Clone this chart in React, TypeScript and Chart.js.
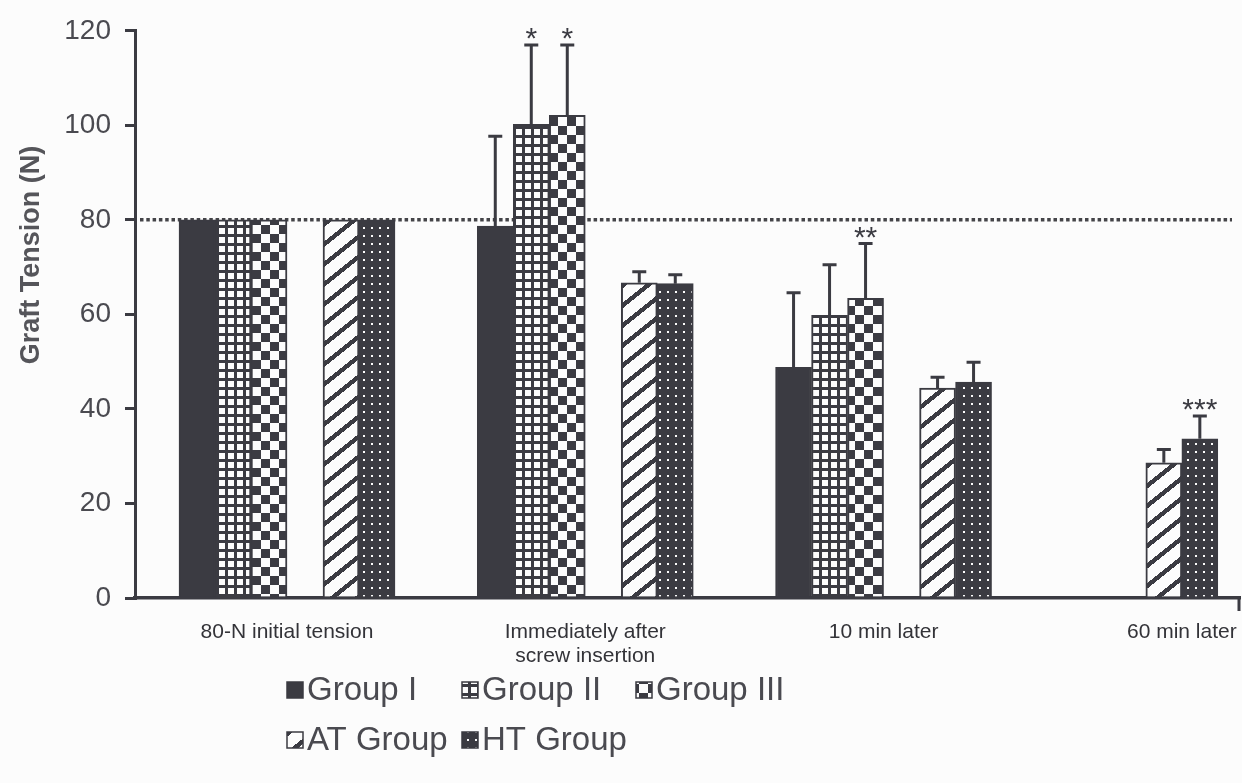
import React, { useEffect, useRef } from 'react';
import { Chart, registerables } from 'chart.js';

Chart.register(...registerables);

// ---------------- data ----------------
const categoryLabels: (string | string[])[] = [
  '80-N initial tension',
  ['Immediately after', 'screw insertion'],
  '10 min later',
  '60 min later',
];
const categoryIndex = [0, 1, 2, 3];

const seriesNames = ['Group I', 'Group II', 'Group III', 'AT Group', 'HT Group'];

const groupI = [80, 78.7, 48.8, null];
const groupII = [80, 100.2, 59.8, null];
const groupIII = [80, 102.1, 63.4, null];
const atGroup = [80, 66.7, 44.4, 28.6];
const htGroup = [80, 66.5, 45.7, 33.7];

const groupISd = [0, 19.0, 15.8, null];
const groupIISd = [0, 16.8, 10.7, null];
const groupIIISd = [0, 14.9, 11.6, null];
const atGroupSd = [0, 2.3, 2.3, 2.8];
const htGroupSd = [0, 1.9, 4.2, 4.8];

const yTicks = [0, 20, 40, 60, 80, 100, 120];
const initialTension = 80;

const significance = [
  { category: 1, series: 'Group II', mark: '*' },
  { category: 1, series: 'Group III', mark: '*' },
  { category: 2, series: 'Group III', mark: '**' },
  { category: 3, series: 'HT Group', mark: '***' },
];

const yTitle = 'Graft Tension (N)';

// ---------------- styles ----------------
const INK = '#3b3b42';
const PAPER = '#fcfcfc';
const FONT = "'Liberation Sans', Arial, sans-serif";

function makeTile(w: number, h: number, draw: (g: CanvasRenderingContext2D) => void) {
  const c = document.createElement('canvas');
  c.width = w;
  c.height = h;
  const g = c.getContext('2d') as CanvasRenderingContext2D;
  draw(g);
  return c;
}

function makeFill(ctx: CanvasRenderingContext2D, kind: string): any {
  if (kind === 'solid') return INK;
  let tile: HTMLCanvasElement;
  if (kind === 'grid') {
    tile = makeTile(9, 9, (g) => {
      g.fillStyle = INK;
      g.fillRect(0, 0, 9, 9);
      g.fillStyle = PAPER;
      g.fillRect(3, 3, 6, 6);
    });
  } else if (kind === 'checker') {
    tile = makeTile(18, 18, (g) => {
      g.fillStyle = PAPER;
      g.fillRect(0, 0, 18, 18);
      g.fillStyle = INK;
      g.fillRect(0, 0, 9, 9);
      g.fillRect(9, 9, 9, 9);
    });
  } else if (kind === 'stripes') {
    const w = 25, h = 20, t = 5.5;
    tile = makeTile(w, h, (g) => {
      const img = g.createImageData(w, h);
      for (let y = 0; y < h; y++) {
        for (let x = 0; x < w; x++) {
          const v = (((y + (x * h) / w) % h) + h) % h;
          const dark = v < t;
          const k = (y * w + x) * 4;
          img.data[k] = dark ? 0x3b : 0xfc;
          img.data[k + 1] = dark ? 0x3b : 0xfc;
          img.data[k + 2] = dark ? 0x42 : 0xfc;
          img.data[k + 3] = 255;
        }
      }
      g.putImageData(img, 0, 0);
    });
  } else {
    tile = makeTile(8, 8, (g) => {
      g.fillStyle = INK;
      g.fillRect(0, 0, 8, 8);
      g.fillStyle = PAPER;
      g.fillRect(3, 3, 2, 2);
    });
  }
  return ctx.createPattern(tile, 'repeat');
}

const overlayPlugin = {
  id: 'overlay',
  beforeDraw(chart: any) {
    const { ctx, width, height } = chart;
    ctx.save();
    ctx.fillStyle = PAPER;
    ctx.fillRect(0, 0, width, height);
    ctx.restore();
  },
  beforeDatasetsDraw(chart: any) {
    const { ctx, chartArea, scales } = chart;
    const y = scales.y.getPixelForValue(initialTension);
    ctx.save();
    ctx.strokeStyle = '#444448';
    ctx.lineWidth = 3.5;
    ctx.setLineDash([3.5, 2.8]);
    ctx.beginPath();
    ctx.moveTo(chartArea.left + 5, y);
    ctx.lineTo(chartArea.right - 8, y);
    ctx.stroke();
    ctx.restore();
  },
  afterDatasetsDraw(chart: any) {
    const { ctx, scales } = chart;
    ctx.save();
    ctx.strokeStyle = INK;
    ctx.lineWidth = 3;
    chart.data.datasets.forEach((ds: any, d: number) => {
      if (!ds.errors) return;
      const meta = chart.getDatasetMeta(d);
      ds.data.forEach((v: number | null, i: number) => {
        const sd = ds.errors[i];
        if (v === null || sd === null || !sd) return;
        const el = meta.data[i];
        const yTop = scales.y.getPixelForValue(v);
        const yCap = scales.y.getPixelForValue(v + sd);
        ctx.beginPath();
        ctx.moveTo(el.x, yTop);
        ctx.lineTo(el.x, yCap);
        ctx.moveTo(el.x - 7, yCap);
        ctx.lineTo(el.x + 7, yCap);
        ctx.stroke();
      });
    });
    ctx.fillStyle = INK;
    ctx.font = `30px ${FONT}`;
    ctx.textAlign = 'center';
    ctx.textBaseline = 'alphabetic';
    significance.forEach((s) => {
      const d = chart.data.datasets.findIndex((ds: any) => ds.label === s.series);
      const ds = chart.data.datasets[d];
      const v = ds.data[s.category];
      const sd = ds.errors[s.category] || 0;
      const el = chart.getDatasetMeta(d).data[s.category];
      const yCap = scales.y.getPixelForValue(v + sd);
      ctx.fillText(s.mark, el.x, yCap + 3);
    });
    ctx.restore();
  },
  afterDraw(chart: any) {
    const { ctx, chartArea } = chart;
    ctx.save();
    // small end tick on x axis
    ctx.strokeStyle = INK;
    ctx.lineWidth = 3;
    ctx.beginPath();
    ctx.moveTo(chartArea.right - 1, chartArea.bottom);
    ctx.lineTo(chartArea.right - 1, chartArea.bottom + 13);
    ctx.stroke();
    // y title
    ctx.fillStyle = '#55555a';
    ctx.font = `bold 27px ${FONT}`;
    ctx.textAlign = 'center';
    ctx.textBaseline = 'middle';
    ctx.translate(32, 255);
    ctx.rotate(-Math.PI / 2);
    ctx.fillText(yTitle, 0, 0);
    ctx.restore();
    // legend
    ctx.save();
    const cols = [287, 462, 636];
    const rows = [690, 740];
    const items = chart.data.datasets.filter((ds: any) => !ds.spacer);
    items.forEach((ds: any, i: number) => {
      const x = cols[i % 3];
      const y = rows[Math.floor(i / 3)];
      ctx.fillStyle = ds.backgroundColor;
      ctx.fillRect(x, y - 8, 16, 16);
      ctx.strokeStyle = INK;
      ctx.lineWidth = 1.5;
      ctx.strokeRect(x, y - 8, 16, 16);
      ctx.fillStyle = '#4a4a50';
      ctx.font = `33px ${FONT}`;
      ctx.textAlign = 'left';
      ctx.textBaseline = 'middle';
      ctx.fillText(ds.label, x + 20, y + 1);
    });
    ctx.restore();
  },
};

export default function App() {
  const canvasRef = useRef<HTMLCanvasElement | null>(null);

  useEffect(() => {
    const canvas = canvasRef.current;
    if (!canvas) return;
    const ctx = canvas.getContext('2d') as CanvasRenderingContext2D;
    const kinds = ['solid', 'grid', 'checker', 'stripes', 'dots'];
    const values = [groupI, groupII, groupIII, atGroup, htGroup];
    const errors = [groupISd, groupIISd, groupIIISd, atGroupSd, htGroupSd];
    const series = seriesNames.map((name, i) => ({
      label: name,
      data: values[i],
      errors: errors[i],
      backgroundColor: makeFill(ctx, kinds[i]),
      borderColor: INK,
      borderWidth: 2,
      borderSkipped: 'bottom',
      barThickness: 36,
      skipNull: true,
    }));
    const spacer = {
      label: '',
      spacer: true,
      data: groupIII.map((v) => (v === null ? null : 0)),
      backgroundColor: 'rgba(0,0,0,0)',
      borderWidth: 0,
      barThickness: 36,
      skipNull: true,
    };
    const datasets = [series[0], series[1], series[2], spacer, series[3], series[4]];

    const chart = new Chart(canvas, {
      type: 'bar',
      data: { labels: categoryIndex, datasets: datasets as any },
      options: {
        responsive: false,
        animation: false,
        devicePixelRatio: 1,
        events: [],
        layout: { padding: { top: 28, right: 2, left: 0, bottom: 0 } },
        plugins: { legend: { display: false }, tooltip: { enabled: false } },
        scales: {
          x: {
            type: 'linear',
            offset: false,
            min: -0.5096,
            max: 3.195,
            afterBuildTicks: (scale: any) => {
              scale.ticks = categoryIndex.map((v) => ({ value: v }));
            },
            afterFit: (scale: any) => {
              scale.height = 185;
              scale.paddingLeft = 0;
              scale.paddingRight = 0;
            },
            grid: { display: false, drawTicks: false, offset: false },
            border: { display: true, color: INK, width: 3.5 },
            ticks: {
              autoSkip: false,
              maxRotation: 0,
              padding: 22,
              color: '#333338',
              font: { family: FONT, size: 21, lineHeight: 1.15 },
              callback: (value: any) => categoryLabels[value as number] ?? '',
            },
          },
          y: {
            min: 0,
            max: 120,
            afterBuildTicks: (scale: any) => {
              scale.ticks = yTicks.map((v) => ({ value: v }));
            },
            afterFit: (scale: any) => {
              scale.width = 135;
            },
            grid: {
              drawOnChartArea: false,
              drawTicks: true,
              tickLength: 10,
              lineWidth: 3,
              color: INK,
            },
            border: { display: true, color: INK, width: 3 },
            ticks: {
              padding: 14,
              color: '#4a4a50',
              font: { family: FONT, size: 28 },
            },
          },
        },
      } as any,
      plugins: [overlayPlugin],
    });
    return () => chart.destroy();
  }, []);

  return (
    <div style={{ position: 'absolute', left: 0, top: 0, width: 1242, height: 783 }}>
      <canvas ref={canvasRef} width={1242} height={783} style={{ width: 1242, height: 783, display: 'block' }} />
    </div>
  );
}
